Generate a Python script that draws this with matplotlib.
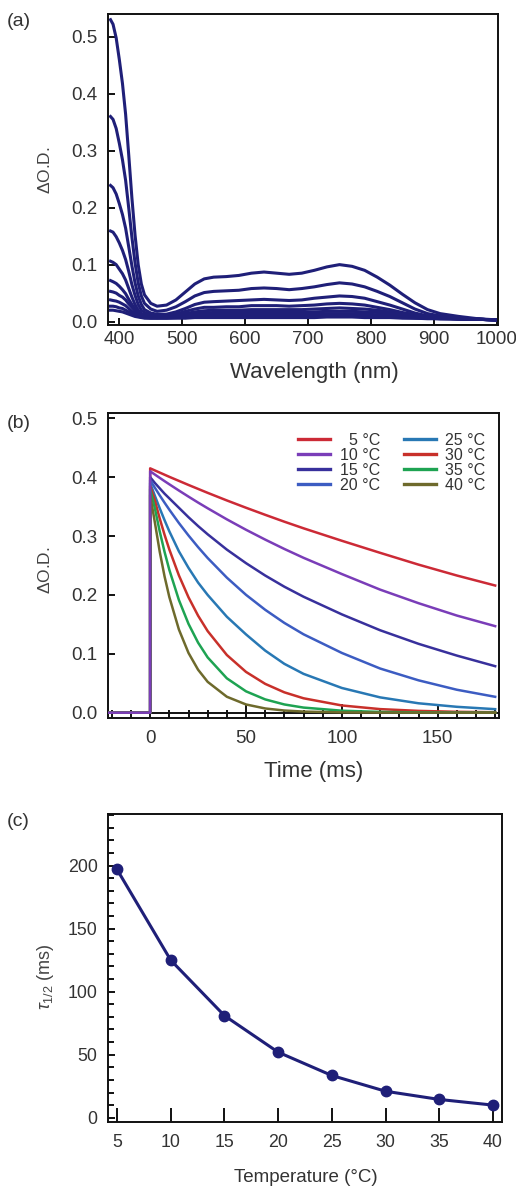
import matplotlib
matplotlib.use('Agg')
import matplotlib.pyplot as plt
from matplotlib.ticker import FixedLocator

plt.rcParams['font.family'] = ['Liberation Sans', 'DejaVu Sans']
plt.rcParams['mathtext.fontset'] = 'custom'
plt.rcParams['mathtext.it'] = 'Liberation Sans:italic'
plt.rcParams['mathtext.rm'] = 'Liberation Sans'

# ---------------- data ----------------
# (a) transient absorption spectra (largest to smallest)
wavelength_nm = [386, 390, 395, 400, 405, 410, 415, 420, 425, 430, 435, 440, 450, 460, 475, 490,
                 505, 520, 535, 550, 570, 590, 610, 630, 650, 670, 690, 710, 730, 750, 770, 790,
                 810, 830, 850, 870, 890, 910, 940, 970, 1000]
spectrum_1 = [0.530, 0.522, 0.498, 0.460, 0.418, 0.364, 0.292, 0.217, 0.152, 0.100, 0.066, 0.047, 0.032,
              0.027, 0.029, 0.038, 0.052, 0.066, 0.075, 0.078, 0.079, 0.081, 0.085, 0.087, 0.085, 0.083,
              0.085, 0.090, 0.096, 0.100, 0.097, 0.090, 0.078, 0.064, 0.048, 0.033, 0.021, 0.014, 0.009,
              0.005, 0.003]
spectrum_2 = [0.360, 0.355, 0.339, 0.313, 0.284, 0.248, 0.199, 0.148, 0.103, 0.068, 0.045, 0.032, 0.022,
              0.018, 0.020, 0.026, 0.035, 0.045, 0.051, 0.053, 0.054, 0.055, 0.058, 0.059, 0.058, 0.056,
              0.058, 0.061, 0.065, 0.068, 0.066, 0.061, 0.053, 0.044, 0.033, 0.022, 0.014, 0.010, 0.006,
              0.004, 0.003]
spectrum_3 = [0.239, 0.235, 0.224, 0.207, 0.188, 0.164, 0.131, 0.098, 0.068, 0.045, 0.030, 0.021, 0.015,
              0.013, 0.013, 0.017, 0.023, 0.030, 0.034, 0.035, 0.036, 0.037, 0.038, 0.039, 0.038, 0.037,
              0.038, 0.041, 0.043, 0.045, 0.044, 0.041, 0.035, 0.029, 0.022, 0.015, 0.010, 0.007, 0.005,
              0.004, 0.003]
spectrum_4 = [0.159, 0.157, 0.149, 0.138, 0.125, 0.109, 0.088, 0.065, 0.046, 0.030, 0.020, 0.016, 0.012,
              0.010, 0.011, 0.013, 0.018, 0.022, 0.025, 0.025, 0.026, 0.026, 0.028, 0.028, 0.028, 0.027,
              0.028, 0.029, 0.031, 0.032, 0.031, 0.029, 0.025, 0.021, 0.016, 0.012, 0.008, 0.006, 0.005,
              0.004, 0.003]
spectrum_5 = [0.106, 0.104, 0.100, 0.092, 0.084, 0.073, 0.058, 0.043, 0.030, 0.020, 0.014, 0.013, 0.010,
              0.009, 0.010, 0.012, 0.014, 0.017, 0.019, 0.020, 0.020, 0.020, 0.021, 0.021, 0.021, 0.021,
              0.021, 0.022, 0.023, 0.024, 0.023, 0.022, 0.020, 0.017, 0.014, 0.011, 0.008, 0.006, 0.005,
              0.004, 0.003]
spectrum_6 = [0.072, 0.070, 0.067, 0.062, 0.056, 0.049, 0.039, 0.030, 0.022, 0.016, 0.012, 0.011, 0.009,
              0.009, 0.009, 0.010, 0.012, 0.014, 0.015, 0.016, 0.016, 0.016, 0.016, 0.017, 0.016, 0.016,
              0.016, 0.017, 0.018, 0.018, 0.018, 0.017, 0.016, 0.014, 0.011, 0.009, 0.008, 0.006, 0.005,
              0.004, 0.003]
spectrum_7 = [0.053, 0.052, 0.050, 0.046, 0.043, 0.038, 0.031, 0.025, 0.019, 0.014, 0.011, 0.009, 0.008,
              0.007, 0.008, 0.008, 0.010, 0.011, 0.012, 0.012, 0.012, 0.012, 0.013, 0.013, 0.013, 0.012,
              0.013, 0.013, 0.014, 0.014, 0.014, 0.013, 0.012, 0.011, 0.009, 0.008, 0.007, 0.006, 0.005,
              0.004, 0.003]
spectrum_8 = [0.038, 0.037, 0.036, 0.034, 0.031, 0.028, 0.023, 0.018, 0.014, 0.011, 0.009, 0.008, 0.007,
              0.007, 0.007, 0.007, 0.008, 0.009, 0.010, 0.010, 0.010, 0.010, 0.010, 0.010, 0.010, 0.010,
              0.010, 0.011, 0.011, 0.011, 0.011, 0.011, 0.010, 0.009, 0.008, 0.007, 0.006, 0.005, 0.005,
              0.004, 0.003]
spectrum_9 = [0.027, 0.027, 0.026, 0.024, 0.023, 0.020, 0.017, 0.014, 0.011, 0.009, 0.008, 0.007, 0.006,
              0.006, 0.006, 0.007, 0.007, 0.008, 0.008, 0.008, 0.008, 0.008, 0.009, 0.009, 0.009, 0.009,
              0.009, 0.009, 0.009, 0.009, 0.009, 0.009, 0.008, 0.008, 0.007, 0.006, 0.006, 0.005, 0.005,
              0.004, 0.003]
spectrum_10 = [0.020, 0.020, 0.019, 0.018, 0.017, 0.015, 0.013, 0.011, 0.009, 0.008, 0.007, 0.006, 0.006,
               0.006, 0.006, 0.006, 0.006, 0.007, 0.007, 0.007, 0.007, 0.007, 0.007, 0.007, 0.007, 0.007,
               0.007, 0.007, 0.008, 0.008, 0.008, 0.007, 0.007, 0.007, 0.006, 0.006, 0.005, 0.005, 0.004,
               0.004, 0.003]
spectra = [spectrum_1, spectrum_2, spectrum_3, spectrum_4, spectrum_5,
           spectrum_6, spectrum_7, spectrum_8, spectrum_9, spectrum_10]

# (b) decay traces
time_ms = [-22, 0, 0, 2.5, 5, 7.5, 10, 15, 20, 25, 30, 40, 50, 60, 70, 80, 100, 120, 140, 160, 180]
decay_5C = [0, 0, 0.415, 0.4114, 0.4078, 0.4042, 0.4006, 0.3937, 0.3868, 0.3801, 0.3734, 0.3605, 0.3481,
            0.3361, 0.3244, 0.3132, 0.2920, 0.2715, 0.2515, 0.2330, 0.2160]
decay_10C = [0, 0, 0.410, 0.4044, 0.3988, 0.3933, 0.3879, 0.3773, 0.3670, 0.3569, 0.3472, 0.3284, 0.3107,
             0.2940, 0.2781, 0.2631, 0.2355, 0.2090, 0.1860, 0.1650, 0.1470]
decay_15C = [0, 0, 0.400, 0.390, 0.381, 0.372, 0.364, 0.348, 0.332, 0.317, 0.303, 0.277, 0.254,
             0.233, 0.214, 0.197, 0.167, 0.140, 0.117, 0.097, 0.079]
decay_20C = [0, 0, 0.395, 0.3818, 0.3690, 0.3567, 0.3448, 0.3221, 0.3010, 0.2812, 0.2627, 0.2294, 0.2002,
             0.1748, 0.1525, 0.1332, 0.1015, 0.075, 0.055, 0.039, 0.027]
decay_25C = [0, 0, 0.390, 0.368, 0.347, 0.327, 0.308, 0.274, 0.246, 0.221, 0.200, 0.163, 0.133,
             0.1055, 0.083, 0.066, 0.042, 0.026, 0.016, 0.010, 0.006]
decay_30C = [0, 0, 0.385, 0.3595, 0.3296, 0.3023, 0.2772, 0.2331, 0.1960, 0.1648, 0.1386, 0.0980, 0.0693,
             0.0490, 0.0346, 0.0245, 0.0123, 0.0061, 0.0031, 0.0015, 0.0008]
decay_35C = [0, 0, 0.380, 0.3464, 0.3076, 0.2732, 0.2426, 0.1913, 0.1509, 0.1190, 0.0939, 0.0584, 0.0363,
             0.0226, 0.0140, 0.0087, 0.0034, 0.0013, 0.0005, 0.0002, 0.0001]
decay_40C = [0, 0, 0.370, 0.3222, 0.2732, 0.2316, 0.1964, 0.1412, 0.1015, 0.0730, 0.0524, 0.0271, 0.0140,
             0.0072, 0.0037, 0.0019, 0.0005, 0.0001, 0.0, 0.0, 0.0]
decay_labels = ['  5 °C', '10 °C', '15 °C', '20 °C', '25 °C', '30 °C', '35 °C', '40 °C']
decay_series = [decay_5C, decay_10C, decay_15C, decay_20C, decay_25C, decay_30C, decay_35C, decay_40C]
decay_colors = ['#cc2a36', '#7a3db8', '#38309c', '#3c5cc2', '#2878b4', '#c8302a', '#1ea352', '#6e6a2c']

# (c) half-life vs temperature
temperature_C = [5, 10, 15, 20, 25, 30, 35, 40]
half_life_ms = [197, 125, 81, 52, 33.5, 21, 14.5, 10]

# ---------------- figure ----------------
W, H = 516, 1186
fig = plt.figure(figsize=(W / 100, H / 100), dpi=100)
TXT = '#333333'
NAVY = '#1f1f78'


def ax_px(l, t, r, b):
    return fig.add_axes([l / W, 1 - b / H, (r - l) / W, (b - t) / H])


def text_px(x, y, s, **kw):
    fig.text(x / W, 1 - y / H, s, **kw)


def style(ax, size, xpad):
    for sp in ax.spines.values():
        sp.set_linewidth(1.4)
        sp.set_color('#111111')
    ax.tick_params(which='both', direction='in', top=False, right=False,
                   width=1.4, color='#111111', labelsize=size, labelcolor=TXT)
    ax.tick_params(which='major', length=5)
    ax.tick_params(axis='y', pad=7.5)
    ax.tick_params(axis='x', pad=xpad)


# panel (a)
ax1 = ax_px(108, 14, 498, 325)
for spec in spectra:
    ax1.plot(wavelength_nm, spec, color=NAVY, lw=2.2, solid_joinstyle='round')
ax1.set_xlim(382, 1002)
ax1.set_ylim(-0.006, 0.54)
ax1.xaxis.set_major_locator(FixedLocator([400, 500, 600, 700, 800, 900, 1000]))
ax1.yaxis.set_major_locator(FixedLocator([0, 0.1, 0.2, 0.3, 0.4, 0.5]))
ax1.set_yticklabels(['0.0', '0.1', '0.2', '0.3', '0.4', '0.5'])
style(ax1, 13.5, 4.5)

# panel (b)
ax2 = ax_px(108, 413, 499, 718)
ax2.axhline(0, color='#111111', lw=1.4, zorder=1)
for i, (ser, col, lab) in enumerate(zip(decay_series, decay_colors, decay_labels)):
    ax2.plot(time_ms, ser, color=col, lw=1.8, label=lab, zorder=3 if i != 1 else 4)
ax2.set_xlim(-22, 182)
ax2.set_ylim(-0.009, 0.509)
ax2.xaxis.set_major_locator(FixedLocator([0, 50, 100, 150]))
ax2.xaxis.set_minor_locator(FixedLocator(list(range(-20, 181, 10))))
ax2.yaxis.set_major_locator(FixedLocator([0, 0.1, 0.2, 0.3, 0.4, 0.5]))
ax2.set_yticklabels(['0.0', '0.1', '0.2', '0.3', '0.4', '0.5'])
style(ax2, 13.5, 8.5)
ax2.tick_params(axis='x', which='major', length=10)
ax2.tick_params(axis='x', which='minor', length=5.5, width=1.4)
leg = ax2.legend(ncol=2, loc='upper left', bbox_to_anchor=(298 / W, 1 - 433 / H),
                 bbox_transform=fig.transFigure, frameon=False, fontsize=11.5,
                 handlelength=2.0, handletextpad=0.6, columnspacing=1.5,
                 labelspacing=0.0, borderpad=0, borderaxespad=0)
for t in leg.get_texts():
    t.set_color(TXT)
for l in leg.get_lines():
    l.set_linewidth(2.4)

# panel (c)
ax3 = ax_px(108, 814, 502, 1122)
ax3.plot(temperature_C, half_life_ms, color=NAVY, lw=2.2, marker='o', ms=7.5,
         markerfacecolor=NAVY, markeredgecolor=NAVY, clip_on=False)
ax3.set_xlim(4.16, 40.84)
ax3.set_ylim(-3.4, 241)
ax3.xaxis.set_major_locator(FixedLocator(temperature_C))
ax3.yaxis.set_major_locator(FixedLocator([0, 50, 100, 150, 200]))
ax3.yaxis.set_minor_locator(FixedLocator(list(range(0, 241, 10))))
style(ax3, 12.8, 8.5)
ax3.tick_params(axis='x', which='major', length=10)
ax3.tick_params(axis='y', which='minor', length=4, width=1.4)

# labels
text_px(7, 22, '(a)', fontsize=14, color=TXT, ha='left', va='center')
text_px(7, 423, '(b)', fontsize=14, color=TXT, ha='left', va='center')
text_px(7, 822, '(c)', fontsize=14, color=TXT, ha='left', va='center')

ylab_od = r'$\mathit{\Delta}$O.D.'
text_px(45, 170, ylab_od, fontsize=12.5, color='#444444', rotation=90, ha='center', va='center')
text_px(45, 570, ylab_od, fontsize=12.5, color='#444444', rotation=90, ha='center', va='center')
text_px(45, 977, r'$\mathit{\tau}_{\mathit{1/2}}$ (ms)', fontsize=13, color='#444444',
        rotation=90, ha='center', va='center')

text_px(314, 373, 'Wavelength (nm)', fontsize=16, color=TXT, ha='center', va='center')
text_px(314, 771, 'Time (ms)', fontsize=16, color=TXT, ha='center', va='center')
text_px(306, 1177, 'Temperature (°C)', fontsize=13.5, color=TXT, ha='center', va='center')

fig.savefig('out.png', dpi=100, facecolor='white')
